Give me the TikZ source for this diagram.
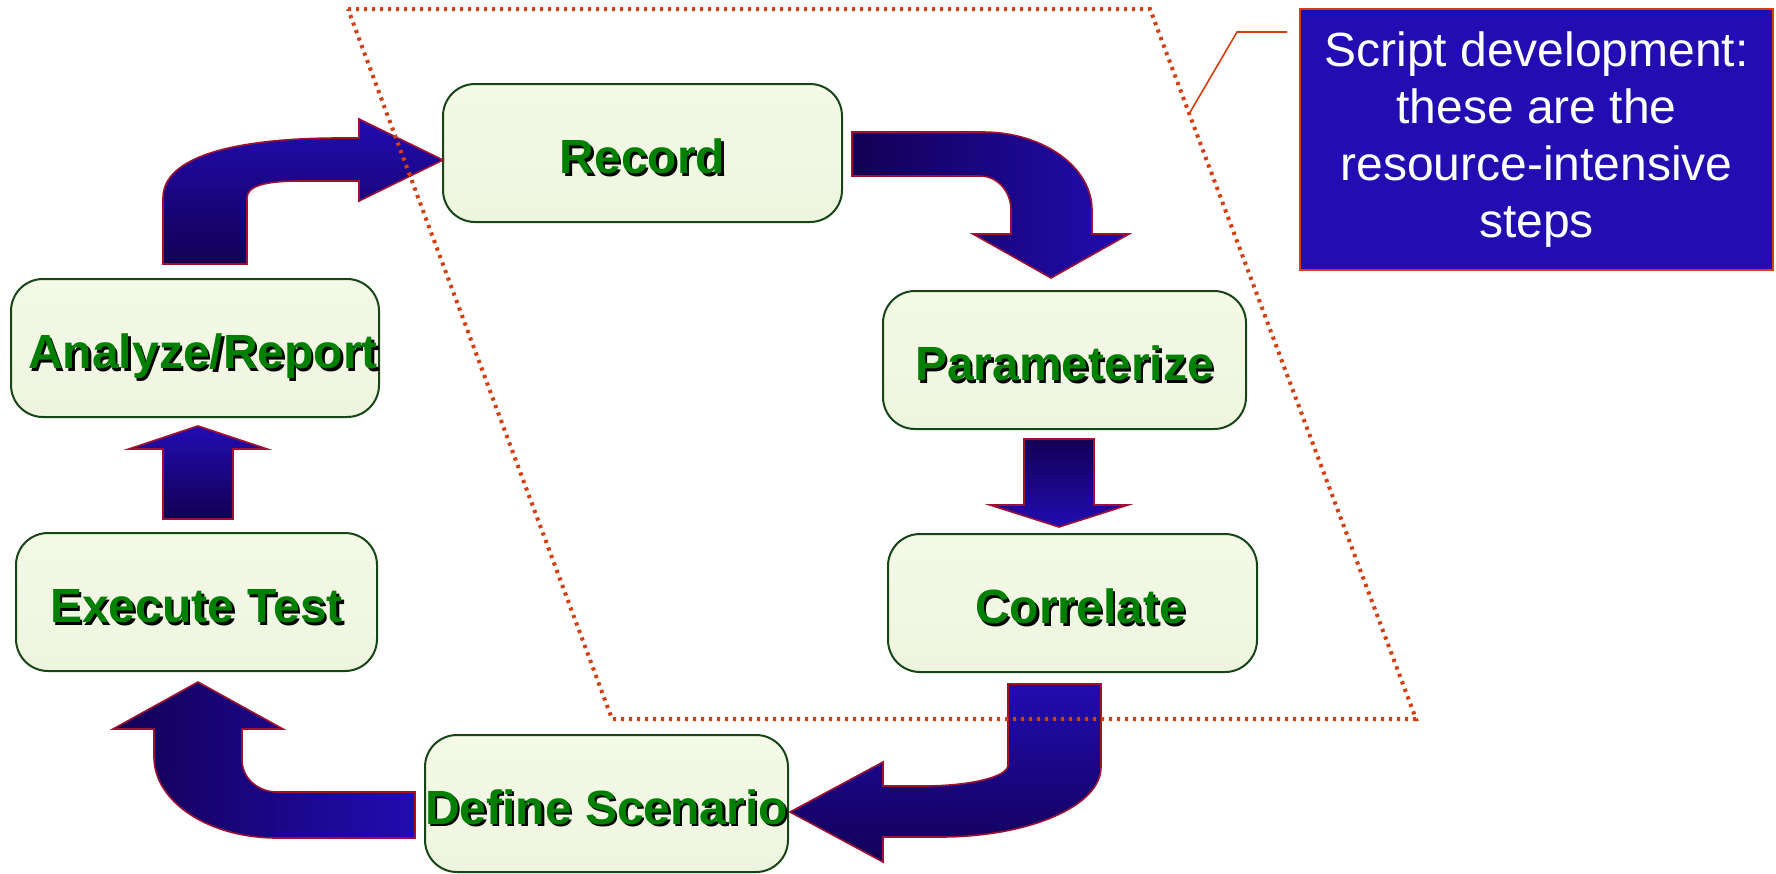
\documentclass[tikz,border=0pt]{standalone}
\usepackage{fontspec}
\setmainfont{Liberation Sans}
\usetikzlibrary{positioning}

\definecolor{navy}{RGB}{18,0,84}
\definecolor{royal}{RGB}{34,12,178}
\definecolor{rim}{RGB}{160,16,48}
\definecolor{stepline}{RGB}{22,70,22}
\definecolor{steptext}{RGB}{0,128,0}
\definecolor{zone}{RGB}{214,62,16}

\newcommand\shadowed[1]{\makebox[0pt][l]{\hspace{1.2pt}\raisebox{-1.2pt}{\color{black}#1}}#1}

\tikzset{
  stepbox/.style={draw=stepline,line width=1pt,rounded corners=16pt,
    top color={rgb,255:red,244;green,249;blue,232},bottom color={rgb,255:red,238;green,245;blue,222},
    text=steptext,font=\fontsize{24}{28}\selectfont\bfseries,
    text height=20.6pt,text depth=0pt,minimum height=69pt,inner sep=0pt},
  bigarrow/.style={draw=rim,line width=0.8pt,line join=miter},
  zoneline/.style={zone,line width=2pt,dash pattern=on 1.6pt off 2.4pt},
  notebox/.style={draw=zone,line width=1pt,fill=royal,text=white,align=center,
    font=\fontsize{24}{28.5}\selectfont,minimum width=236.5pt,minimum height=130.5pt},
}

\begin{document}
\begin{tikzpicture}[x=0.5pt,y=-0.5pt]
\useasboundingbox (0,0) rectangle (1776,873);

% steps
\node[stepbox,minimum width=199.5pt] (rec) at (642.5,153) {\shadowed{Record}};
\node[stepbox,minimum width=181.5pt] (par) at (1064.5,360) {\shadowed{Parameterize}};
\node[stepbox,minimum width=184.5pt] (cor) at (1072.5,603) {\hspace{8pt}\shadowed{Correlate}};
\node[stepbox,minimum width=181.5pt,minimum height=68.5pt] (def) at (606.5,803.5) {\shadowed{Define Scenario}};
\node[stepbox,minimum width=180.5pt] (exe) at (196.5,602) {\shadowed{Execute Test}};
\node[stepbox,minimum width=184pt] (ana) at (195,348) {\hspace{8pt}\shadowed{Analyze/Report}};

% block arrows
\draw[bigarrow,top color=royal,bottom color=navy] (163,264) -- (163,198)
  .. controls (163,155) and (240,138) .. (340,138) -- (359,138) -- (359,119) -- (443,160)
  -- (359,201) -- (359,181) -- (300,181) .. controls (265,181) and (247,186) .. (247,198)
  -- (247,264) -- cycle;
\draw[bigarrow,left color=navy,right color=royal] (852,132) -- (983,132)
  .. controls (1043,132) and (1092,167) .. (1092,210) -- (1092,234) -- (1129,234) -- (1051,278)
  -- (973,234) -- (1011,234) -- (1011,210) .. controls (1011,191) and (997,176) .. (980,176)
  -- (852,176) -- cycle;
\draw[bigarrow,top color=navy,bottom color=royal] (1024,439) -- (1094,439) -- (1094,505)
  -- (1128,505) -- (1059,527) -- (990,505) -- (1024,505) -- cycle;
\draw[bigarrow,top color=royal,bottom color=navy] (1008,684) -- (1101,684) -- (1101,767)
  .. controls (1101,806) and (1029,837) .. (940,837) -- (883,837) -- (883,862) -- (790,812)
  -- (883,762) -- (883,786) -- (923,786) .. controls (970,786) and (1008,777) .. (1008,765)
  -- cycle;
\draw[bigarrow,left color=navy,right color=royal] (415,792) -- (277,792)
  .. controls (258,792) and (242,778) .. (242,760) -- (242,729) -- (283,729) -- (198,682)
  -- (113,729) -- (154,729) -- (154,757) .. controls (154,802) and (209,838) .. (277,838)
  -- (415,838) -- cycle;
\draw[bigarrow,top color=royal,bottom color=navy] (163,519) -- (163,449) -- (129,449)
  -- (198,426) -- (267,449) -- (233,449) -- (233,519) -- cycle;

% script development zone
\draw[zoneline] (348,9) -- (1150,9) -- (1416,719) -- (612,719) -- cycle;
\coordinate (hook) at (1189,114);

\node[notebox] (note) at (1536.5,139.5) {Script development:\\these are the\\resource-intensive\\steps};
\draw[zone,line width=0.8pt] ([xshift=-6pt,yshift=-12pt]note.north west) -- ++(-50,0) -- (hook);
\end{tikzpicture}
\end{document}
